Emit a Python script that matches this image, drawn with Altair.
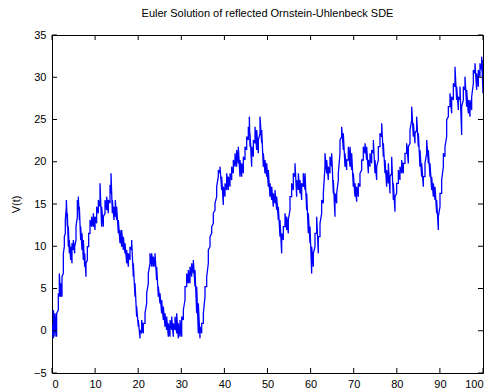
import altair as alt
import pandas as pd

# Sample times of the simulated path and the low / high envelope of V(t) around each time
t = [0.0, 0.31, 0.70, 1.08, 1.47, 1.70, 2.01, 2.32, 2.63, 2.86, 3.09, 3.33, 3.56, 3.79, 4.02, 4.33, 4.64, 4.95,
     5.26, 5.57, 5.88, 6.11, 6.34, 6.65, 6.96, 7.27, 7.58, 7.89, 8.20, 8.51, 8.82, 9.20, 9.59, 9.98, 10.36, 10.75,
     11.14, 11.52, 11.91, 12.30, 12.68, 13.07, 13.46, 13.69, 14.00, 14.39, 14.69, 15.00, 15.39, 15.78, 16.16, 16.55,
     16.94, 17.32, 17.71, 18.10, 18.48, 18.87, 19.26, 19.64, 20.03, 20.42, 20.80, 21.19, 21.58, 21.96, 22.35, 22.74,
     23.12, 23.51, 23.90, 24.28, 24.67, 25.06, 25.44, 25.83, 26.22, 26.60, 26.99, 27.38, 27.76, 28.15, 28.54, 28.93,
     29.31, 29.70, 30.09, 30.47, 30.86, 31.25, 31.63, 32.02, 32.41, 32.79, 33.18, 33.57, 33.95,
     34.34, 34.73, 35.11, 35.50, 35.89, 36.27, 36.66, 37.05, 37.43, 37.82, 38.21, 38.59, 38.98, 39.37, 39.75, 40.14,
     40.53, 40.91, 41.30, 41.69, 42.07, 42.46, 42.85, 43.23, 43.62, 44.01, 44.39, 44.78, 45.17, 45.55, 45.79, 45.94,
     46.33, 46.71, 47.10, 47.49, 47.87, 48.26, 48.65, 49.03, 49.42, 49.81, 50.19, 50.58, 50.97, 51.35, 51.74, 52.13,
     52.51, 52.90, 53.29, 53.67, 54.06, 54.45, 54.83, 55.22, 55.61, 55.99, 56.38, 56.77, 57.15, 57.54, 57.93, 58.31,
     58.70, 59.09, 59.47, 59.86, 60.25, 60.63, 61.02, 61.41, 61.79, 62.18, 62.57, 62.95, 63.34, 63.73, 64.11, 64.50,
     64.89, 65.27, 65.66, 66.05, 66.43, 66.82, 67.21, 67.59, 67.98, 68.37, 68.75,
     69.14, 69.53, 69.91, 70.30, 70.69, 71.07, 71.46, 71.85, 72.23, 72.62, 73.01, 73.40, 73.78, 74.17, 74.56, 74.94,
     75.33, 75.72, 76.10, 76.49, 76.88, 77.26, 77.65, 78.04, 78.42, 78.81, 79.20, 79.58, 79.97, 80.36, 80.74, 81.13,
     81.52, 81.90, 82.29, 82.68, 83.06, 83.45, 83.84, 84.22, 84.61, 85.00, 85.38, 85.77, 86.16, 86.54, 86.93, 87.32,
     87.70, 88.09, 88.48, 88.86, 89.25, 89.64, 90.02, 90.41, 90.80, 91.18, 91.57, 91.96, 92.34, 92.73, 93.12, 93.50,
     93.89, 94.28, 94.66, 95.05, 95.44, 95.82, 96.21, 96.60, 96.98, 97.37, 97.76, 98.14, 98.53, 98.92, 99.30, 99.69,
     100.0]

v_low = [-0.31, -0.90, -0.70, -0.70, 2.46, 4.03, 4.03, 4.03, 6.79, 9.95, 11.53, 14.68, 12.32, 9.95, 9.16, 8.37, 7.98, 9.56,
         9.16, 10.74, 13.50, 14.29, 13.11, 10.74, 9.56, 8.37, 7.58, 6.40, 8.37, 9.95, 11.53, 12.32, 12.32, 11.92, 12.71, 13.90,
         14.68, 12.32, 12.32, 13.90, 14.29, 13.90, 15.08, 16.26, 13.90, 13.11, 13.50, 13.11, 11.53, 10.35, 9.95, 9.56,
         9.16, 7.98, 7.58, 8.37, 9.56, 6.40, 4.03, 1.67, 0.48, -0.90, -0.31, -0.31, 0.88, 3.24, 5.61, 7.98,
         7.58, 7.58, 7.58, 6.01, 4.03, 3.24, 2.06, 1.27, 0.48, 0.09, -0.70, -0.70, 0.09, -0.70, 0.09, -0.31,
         -0.90, -0.70, -0.70, 1.27, 3.64, 5.22, 5.61, 5.61, 6.40, 6.79, 5.22, 2.06, -0.31,
         -0.90, -0.31, 0.88, 4.03, 5.22, 7.98, 9.95, 11.53, 12.71, 14.29, 15.87, 18.23, 18.63, 16.66, 14.88, 15.87,
         16.66, 16.66, 17.05, 17.84, 18.63, 19.42, 19.42, 19.81, 18.23, 18.23, 18.63, 20.21, 21.39, 22.57, 23.36, 21.78,
         19.42, 20.60, 22.18, 21.39, 21.00, 23.36, 22.18, 19.42, 18.63, 18.23, 17.05, 15.87, 15.47, 14.68, 15.08, 14.29,
         13.11, 11.13, 9.16, 10.74, 12.32, 11.92, 11.53, 14.29, 15.87, 16.66, 18.23, 15.87, 16.66, 16.26, 15.47, 17.05,
         16.66, 14.29, 11.53, 10.35, 6.79, 7.58, 9.95, 11.53, 9.16, 11.13, 13.90, 15.08, 19.42, 18.63, 17.84, 18.63,
         19.42, 16.26, 13.50, 15.08, 17.84, 21.00, 22.97, 21.39, 19.42, 19.02, 20.21,
         19.42, 19.02, 17.05, 15.87, 15.28, 15.87, 17.05, 19.02, 20.21, 21.00, 20.21, 18.63, 19.42, 19.81, 21.00, 18.63,
         17.84, 20.21, 21.78, 22.97, 20.60, 18.63, 17.05, 17.45, 16.26, 18.63, 15.47, 14.09, 16.26, 17.45, 17.84, 18.63,
         18.63, 19.81, 21.00, 19.81, 22.18, 24.94, 22.97, 22.18, 23.76, 21.78, 19.42, 18.23, 17.05, 18.23, 21.00, 19.81,
         18.23, 16.66, 15.87, 15.47, 13.90, 11.92, 14.68, 16.26, 19.42, 20.60, 22.97, 25.34, 26.52, 25.73, 27.31, 28.89,
         27.31, 26.12, 27.31, 23.17, 27.31, 28.49, 26.52, 25.73, 25.34, 26.12, 29.28, 30.46, 28.49, 28.89, 30.07, 30.86,
         28.10]

v_high = [0.67, 2.46, 2.06, 2.06, 4.43, 6.79, 5.61, 6.40, 9.16, 11.13, 13.11, 15.47, 13.90, 12.32, 10.74, 9.95, 10.35, 10.74,
          9.95, 12.32, 15.47, 15.87, 14.68, 12.32, 11.53, 10.74, 9.16, 7.98, 9.95, 11.53, 13.11, 13.50, 13.90, 13.50, 14.68, 15.47,
          17.45, 14.68, 13.50, 15.47, 15.87, 15.47, 17.25, 18.63, 15.47, 14.68, 15.47, 14.68, 13.11, 11.92, 11.92, 11.13,
          10.35, 9.56, 9.16, 9.95, 10.74, 7.98, 5.61, 2.85, 1.27, 0.09, 1.27, 0.88, 2.06, 4.43, 6.79, 9.16,
          9.16, 8.77, 9.16, 7.58, 5.22, 4.43, 3.64, 2.85, 2.06, 1.67, 0.88, 1.27, 1.67, 0.88, 1.67, 2.06,
          0.88, 1.27, 1.67, 2.46, 5.22, 6.79, 7.19, 7.58, 7.98, 8.37, 7.19, 5.22, 3.24,
          0.48, 0.88, 2.06, 5.22, 6.40, 9.56, 11.13, 12.32, 13.90, 15.08, 17.05, 19.02, 19.42, 18.23, 17.05, 17.45,
          18.63, 18.23, 18.63, 19.42, 20.21, 21.00, 21.39, 21.78, 20.21, 19.81, 20.60, 21.78, 22.97, 24.15, 25.34, 23.36,
          21.78, 22.57, 24.15, 23.76, 22.57, 25.34, 23.76, 21.00, 20.21, 19.81, 19.02, 17.45, 17.05, 16.26, 16.66, 15.87,
          14.68, 13.11, 11.53, 12.32, 13.90, 13.50, 13.11, 15.87, 17.45, 18.63, 19.81, 17.84, 18.63, 17.84, 17.45, 18.63,
          18.63, 16.26, 13.90, 12.32, 9.95, 9.16, 11.53, 13.50, 11.13, 12.71, 15.47, 16.26, 21.00, 20.21, 19.42, 20.60,
          21.00, 17.84, 16.26, 16.26, 18.63, 22.57, 24.15, 23.36, 21.00, 20.21, 21.78,
          21.78, 21.00, 18.63, 17.45, 17.05, 17.45, 18.63, 20.21, 21.78, 22.18, 21.78, 20.21, 21.00, 21.39, 22.57, 20.21,
          19.42, 21.78, 23.36, 24.55, 22.18, 20.21, 19.02, 19.81, 18.23, 20.60, 17.45, 15.87, 17.45, 19.02, 19.42, 20.21,
          19.81, 21.00, 22.18, 21.78, 23.76, 26.52, 24.55, 23.36, 25.34, 23.36, 21.39, 19.81, 18.23, 19.81, 22.57, 21.39,
          19.81, 18.23, 17.45, 17.05, 15.47, 13.50, 16.26, 17.84, 21.00, 21.78, 24.94, 26.52, 28.10, 27.70, 29.28, 31.25,
          28.89, 27.70, 28.89, 26.52, 28.89, 30.07, 28.49, 27.31, 27.31, 27.70, 30.86, 31.65, 30.46, 30.86, 31.65, 32.44,
          32.04]

x_ticks = [0, 10, 20, 30, 40, 50, 60, 70, 80, 90, 100]
y_ticks = [-5, 0, 5, 10, 15, 20, 25, 30, 35]

# The path alternates between the low and high value at each sample time
rows = []
for i, (ti, lo, hi) in enumerate(zip(t, v_low, v_high)):
    rows.append({"step": 2 * i, "t": ti, "V": lo})
    rows.append({"step": 2 * i + 1, "t": ti, "V": hi})
path = pd.DataFrame(rows)

W, H = 431, 338
x_scale = alt.Scale(domain=[0, 100], nice=False, zero=False)
y_scale = alt.Scale(domain=[-5, 35], nice=False, zero=False)
font = "Liberation Sans"

line = alt.Chart(path).mark_line(color="#0000ff", strokeWidth=1.3, clip=True).encode(
    x=alt.X("t:Q", scale=x_scale,
            axis=alt.Axis(values=x_ticks, title=None, grid=False, domain=False, tickSize=0,
                          labelPadding=5, labelFontSize=11, labelFont=font, labelColor="#000000")),
    y=alt.Y("V:Q", scale=y_scale,
            axis=alt.Axis(values=y_ticks, title="V(t)", grid=False, domain=False, tickSize=0,
                          labelPadding=6, labelFontSize=11, labelFont=font, labelColor="#000000",
                          titleFont=font, titleFontSize=11, titleFontWeight="normal",
                          titleColor="#000000", titlePadding=12)),
    order="step:Q",
)

xt = pd.DataFrame({"tx": x_ticks})
yt = pd.DataFrame({"ty": y_ticks})
tick_len = 5

x_ticks_bottom = alt.Chart(xt).mark_rule(color="black", strokeWidth=1).encode(
    x=alt.X("tx:Q", scale=x_scale), y=alt.value(H), y2=alt.value(H - tick_len))
x_ticks_top = alt.Chart(xt).mark_rule(color="black", strokeWidth=1).encode(
    x=alt.X("tx:Q", scale=x_scale), y=alt.value(0), y2=alt.value(tick_len))
y_ticks_left = alt.Chart(yt).mark_rule(color="black", strokeWidth=1).encode(
    y=alt.Y("ty:Q", scale=y_scale), x=alt.value(0), x2=alt.value(tick_len))
y_ticks_right = alt.Chart(yt).mark_rule(color="black", strokeWidth=1).encode(
    y=alt.Y("ty:Q", scale=y_scale), x=alt.value(W), x2=alt.value(W - tick_len))

chart = alt.layer(line, x_ticks_bottom, x_ticks_top, y_ticks_left, y_ticks_right).properties(
    width=W,
    height=H,
    title=alt.TitleParams("Euler Solution of reflected Ornstein-Uhlenbeck SDE",
                          font=font, fontSize=11, fontWeight="normal", color="#000000",
                          anchor="middle", offset=10),
    autosize=alt.AutoSizeParams(type="none"),
    padding={"left": 52, "top": 35, "right": 12, "bottom": 19},
    background="white",
).configure_view(stroke="black", strokeWidth=1)

chart.save("out.html", embed_options={"renderer": "svg", "actions": False})
